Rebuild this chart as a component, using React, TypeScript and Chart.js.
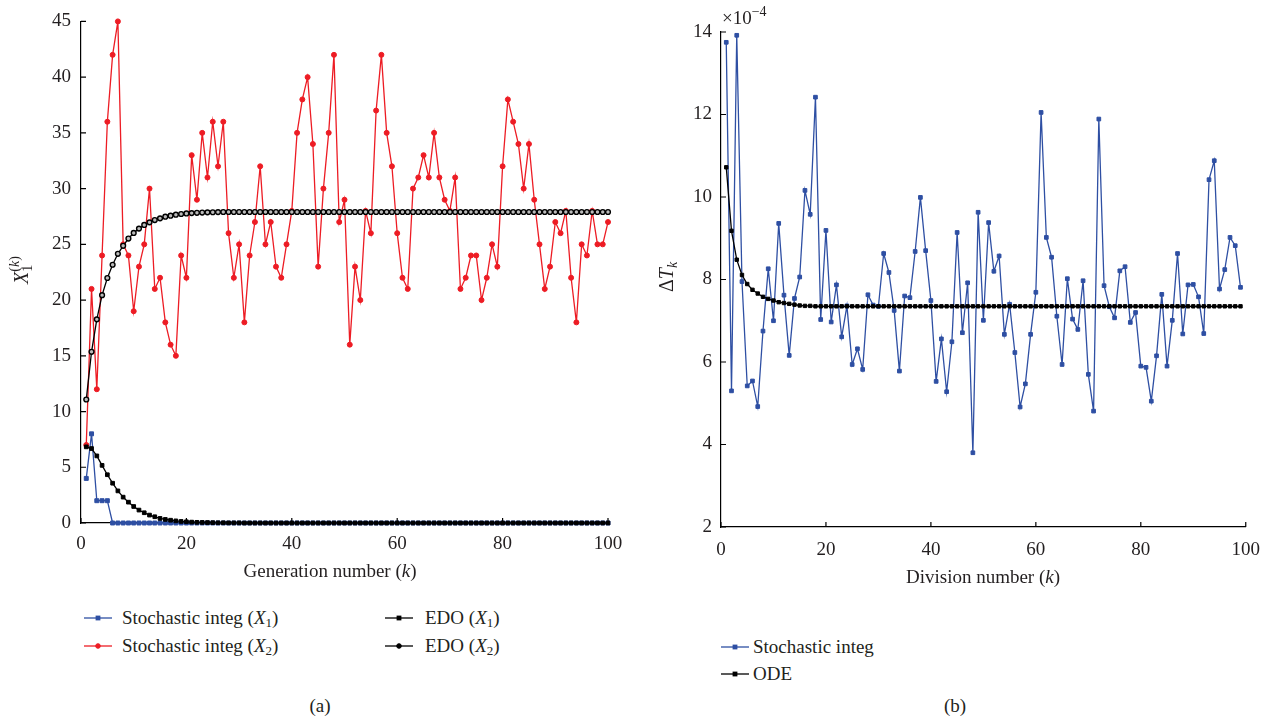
import React, { useEffect, useRef } from "react";
import { Chart, registerables } from "chart.js";

Chart.register(...registerables);

// ---------------- data ----------------
// Panel (a): generation number k = 1..100
const stochX1 = [
  4, 8, 2, 2, 2, 0, 0, 0, 0, 0,
  0, 0, 0, 0, 0, 0, 0, 0, 0, 0,
  0, 0, 0, 0, 0, 0, 0, 0, 0, 0,
  0, 0, 0, 0, 0, 0, 0, 0, 0, 0,
  0, 0, 0, 0, 0, 0, 0, 0, 0, 0,
  0, 0, 0, 0, 0, 0, 0, 0, 0, 0,
  0, 0, 0, 0, 0, 0, 0, 0, 0, 0,
  0, 0, 0, 0, 0, 0, 0, 0, 0, 0,
  0, 0, 0, 0, 0, 0, 0, 0, 0, 0,
  0, 0, 0, 0, 0, 0, 0, 0, 0, 0,
];
const stochX2 = [
  7, 21, 12, 24, 36, 42, 45, 25, 24, 19,
  23, 25, 30, 21, 22, 18, 16, 15, 24, 22,
  33, 29, 35, 31, 36, 32, 36, 26, 22, 25,
  18, 24, 27, 32, 25, 27, 23, 22, 25, 28,
  35, 38, 40, 34, 23, 30, 35, 42, 27, 29,
  16, 23, 20, 28, 26, 37, 42, 35, 32, 26,
  22, 21, 30, 31, 33, 31, 35, 31, 29, 28,
  31, 21, 22, 24, 24, 20, 22, 25, 23, 32,
  38, 36, 34, 30, 34, 29, 25, 21, 23, 27,
  26, 28, 22, 18, 25, 24, 28, 25, 25, 27,
];
const edoX1 = [
  6.83, 6.68, 6.02, 5.17, 4.33, 3.57, 2.88, 2.32, 1.87, 1.48,
  1.16, 0.92, 0.71, 0.56, 0.41, 0.32, 0.25, 0.19, 0.14, 0.11,
  0.08, 0.06, 0.05, 0.04, 0.03, 0.02, 0.02, 0.01, 0.01, 0.01,
  0, 0, 0, 0, 0, 0, 0, 0, 0, 0,
  0, 0, 0, 0, 0, 0, 0, 0, 0, 0,
  0, 0, 0, 0, 0, 0, 0, 0, 0, 0,
  0, 0, 0, 0, 0, 0, 0, 0, 0, 0,
  0, 0, 0, 0, 0, 0, 0, 0, 0, 0,
  0, 0, 0, 0, 0, 0, 0, 0, 0, 0,
  0, 0, 0, 0, 0, 0, 0, 0, 0, 0,
];
const edoX2 = [
  11.08, 15.36, 18.27, 20.44, 21.98, 23.17, 24.15, 24.87, 25.52, 26.02,
  26.41, 26.74, 26.97, 27.18, 27.33, 27.48, 27.57, 27.66, 27.72, 27.77,
  27.8, 27.83, 27.85, 27.87, 27.88, 27.89, 27.9, 27.9, 27.9, 27.9,
  27.9, 27.9, 27.9, 27.9, 27.9, 27.9, 27.9, 27.9, 27.9, 27.9,
  27.9, 27.9, 27.9, 27.9, 27.9, 27.9, 27.9, 27.9, 27.9, 27.9,
  27.9, 27.9, 27.9, 27.9, 27.9, 27.9, 27.9, 27.9, 27.9, 27.9,
  27.9, 27.9, 27.9, 27.9, 27.9, 27.9, 27.9, 27.9, 27.9, 27.9,
  27.9, 27.9, 27.9, 27.9, 27.9, 27.9, 27.9, 27.9, 27.9, 27.9,
  27.9, 27.9, 27.9, 27.9, 27.9, 27.9, 27.9, 27.9, 27.9, 27.9,
  27.9, 27.9, 27.9, 27.9, 27.9, 27.9, 27.9, 27.9, 27.9, 27.9,
];

// Panel (b): division number k = 1..99, values in units of 1e-4
const dtStoch = [
  13.75, 5.3, 13.92, 7.95, 5.42, 5.54, 4.92, 6.75, 8.26, 7.0,
  9.36, 7.62, 6.16, 7.54, 8.06, 10.16, 9.58, 12.42, 7.03, 9.19,
  6.97, 7.87, 6.61, 7.36, 5.94, 6.32, 5.82, 7.63, 7.38, 7.35,
  8.63, 8.17, 7.25, 5.78, 7.6, 7.56, 8.68, 9.99, 8.7, 7.49,
  5.53, 6.56, 5.28, 6.49, 9.14, 6.71, 7.92, 3.8, 9.63, 7.01,
  9.38, 8.2, 8.57, 6.67, 7.4, 6.23, 4.91, 5.47, 6.67, 7.69,
  12.05, 9.02, 8.54, 7.11, 5.94, 8.02, 7.04, 6.79, 7.97, 5.7,
  4.81, 11.89, 7.85, 7.34, 7.07, 8.21, 8.31, 6.96, 7.2, 5.9,
  5.87, 5.05, 6.15, 7.64, 5.9, 7.01, 8.63, 6.68, 7.87, 7.88,
  7.58, 6.69, 10.42, 10.88, 7.77, 8.24, 9.02, 8.82, 7.81,
];
const dtOde = [
  10.72, 9.18, 8.48, 8.11, 7.89, 7.75, 7.66, 7.58, 7.53, 7.49,
  7.45, 7.43, 7.41, 7.39, 7.37, 7.36, 7.36, 7.35, 7.35, 7.35,
  7.35, 7.35, 7.35, 7.35, 7.35, 7.35, 7.35, 7.35, 7.35, 7.35,
  7.35, 7.35, 7.35, 7.35, 7.35, 7.35, 7.35, 7.35, 7.35, 7.35,
  7.35, 7.35, 7.35, 7.35, 7.35, 7.35, 7.35, 7.35, 7.35, 7.35,
  7.35, 7.35, 7.35, 7.35, 7.35, 7.35, 7.35, 7.35, 7.35, 7.35,
  7.35, 7.35, 7.35, 7.35, 7.35, 7.35, 7.35, 7.35, 7.35, 7.35,
  7.35, 7.35, 7.35, 7.35, 7.35, 7.35, 7.35, 7.35, 7.35, 7.35,
  7.35, 7.35, 7.35, 7.35, 7.35, 7.35, 7.35, 7.35, 7.35, 7.35,
  7.35, 7.35, 7.35, 7.35, 7.35, 7.35, 7.35, 7.35, 7.35,
];

// tick labels
const xTicksA = [0, 20, 40, 60, 80, 100];
const yTicksA = [0, 5, 10, 15, 20, 25, 30, 35, 40, 45];
const xTicksB = [0, 20, 40, 60, 80, 100];
const yTicksB = [2, 4, 6, 8, 10, 12, 14];

// series labels
const labelsA = ["Stochastic integ (X1)", "Stochastic integ (X2)", "EDO (X1)", "EDO (X2)"];
const labelsB = ["Stochastic integ", "ODE"];

// ---------------- styles ----------------
const FONT = '"Liberation Serif", "Times New Roman", serif';
const INK = "#231f20";
const RED = "#ed1c24";
const BLUE = "#2e4fa3";
const W = 636;
const H = 600;

type Part = { t: string; size?: number; italic?: boolean; dy?: number; mark?: boolean; back?: boolean };

function drawRich(ctx: CanvasRenderingContext2D, parts: Part[], x: number, y: number, align: "center" | "left") {
  const fonts = parts.map((p) => `${p.italic ? "italic " : ""}${p.size ?? 19}px ${FONT}`);
  const widths = parts.map((p, i) => {
    ctx.font = fonts[i];
    return ctx.measureText(p.t).width;
  });
  const xs: number[] = [];
  let cur = 0;
  let mark = 0;
  let maxCur = 0;
  parts.forEach((p, i) => {
    if (p.mark) mark = cur;
    if (p.back) {
      maxCur = Math.max(maxCur, cur);
      cur = mark;
    }
    xs.push(cur);
    cur += widths[i];
    maxCur = Math.max(maxCur, cur);
  });
  const x0 = align === "center" ? x - maxCur / 2 : x;
  ctx.textAlign = "left";
  ctx.textBaseline = "alphabetic";
  ctx.fillStyle = INK;
  parts.forEach((p, i) => {
    ctx.font = fonts[i];
    ctx.fillText(p.t, x0 + xs[i], y + (p.dy ?? 0));
  });
}

function tickPlugin(id: string, decorate: (ctx: CanvasRenderingContext2D, chart: any) => void) {
  return {
    id,
    afterDraw(chart: any) {
      const { ctx, chartArea, scales } = chart;
      ctx.save();
      ctx.strokeStyle = "#000";
      ctx.lineWidth = 1.2;
      ctx.beginPath();
      scales.x.ticks.forEach((t: any) => {
        const px = scales.x.getPixelForValue(t.value);
        ctx.moveTo(px, chartArea.bottom);
        ctx.lineTo(px, chartArea.bottom - 5);
      });
      scales.y.ticks.forEach((t: any) => {
        const py = scales.y.getPixelForValue(t.value);
        ctx.moveTo(chartArea.left, py);
        ctx.lineTo(chartArea.left + 5, py);
      });
      ctx.stroke();
      decorate(ctx, chart);
      ctx.restore();
    },
  };
}

function axis(min: number, max: number, ticks: number[], pad: number, fit: (s: any) => void) {
  return {
    type: "linear" as const,
    min,
    max,
    grid: { display: false, drawTicks: false },
    border: { display: true, color: "#000", width: 1.2 },
    ticks: { color: INK, font: { family: FONT, size: 19 }, padding: pad, autoSkip: false, maxRotation: 0 },
    afterBuildTicks: (s: any) => {
      s.ticks = ticks.map((v) => ({ value: v }));
    },
    afterFit: fit,
  };
}

function series(label: string, values: number[], color: string, style: string, radius: number, fill: string, order: number, pbw = 1) {
  return {
    label,
    data: values.map((v, i) => ({ x: i + 1, y: v })),
    borderColor: color,
    borderWidth: 1.3,
    pointStyle: style,
    pointRadius: radius,
    pointBackgroundColor: fill,
    pointBorderColor: color,
    pointBorderWidth: pbw,
    tension: 0,
    clip: false,
    order,
  };
}

function configA() {
  return {
    type: "line" as const,
    data: {
      datasets: [
        series(labelsA[0], stochX1, BLUE, "rect", 2.8, BLUE, 3),
        series(labelsA[1], stochX2, RED, "circle", 2.5, RED, 2),
        series(labelsA[2], edoX1, "#000", "rect", 2.6, "#000", 1),
        series(labelsA[3], edoX2, "#000", "circle", 2.4, "#bbb", 0, 1.4),
      ],
    },
    options: {
      animation: false as const,
      responsive: false,
      layout: { padding: { top: 18, right: 28, left: 0, bottom: 0 } },
      plugins: { legend: { display: false }, tooltip: { enabled: false } },
      scales: {
        x: axis(0, 100, xTicksA, 10, (s: any) => { s.height = H - 523; }),
        y: axis(0, 45, yTicksA, 10, (s: any) => { s.width = 81; }),
      },
    },
    plugins: [
      tickPlugin("decorA", (ctx) => {
        ctx.save();
        ctx.translate(22, 270);
        ctx.rotate(-Math.PI / 2);
        drawRich(ctx, [
          { t: "X", italic: true, size: 20 },
          { t: "(", size: 14, dy: -9, mark: true },
          { t: "k", size: 14, dy: -9, italic: true },
          { t: ")", size: 14, dy: -9 },
          { t: "1", size: 14, dy: 4, back: true },
        ], 0, 6, "center");
        ctx.restore();
        drawRich(ctx, [
          { t: "Generation number (" },
          { t: "k", italic: true },
          { t: ")" },
        ], 330, 577, "center");
      }),
    ],
  };
}

function configB() {
  return {
    type: "line" as const,
    data: {
      datasets: [
        series(labelsB[0], dtStoch, BLUE, "rect", 2.6, BLUE, 1),
        series(labelsB[1], dtOde, "#000", "rect", 2.4, "#000", 0),
      ],
    },
    options: {
      animation: false as const,
      responsive: false,
      layout: { padding: { top: 32, right: 23, left: 0, bottom: 0 } },
      plugins: { legend: { display: false }, tooltip: { enabled: false } },
      scales: {
        x: axis(0, 100, xTicksB, 12, (s: any) => { s.height = H - 527; }),
        y: axis(2, 14, yTicksB, 9, (s: any) => { s.width = 85; }),
      },
    },
    plugins: [
      tickPlugin("decorB", (ctx) => {
        drawRich(ctx, [
          { t: "×10" },
          { t: "−4", size: 14, dy: -8 },
        ], 86, 24, "left");
        ctx.save();
        ctx.translate(31, 277);
        ctx.rotate(-Math.PI / 2);
        drawRich(ctx, [
          { t: "Δ", size: 20 },
          { t: "T", italic: true, size: 20 },
          { t: "k", size: 14, dy: 4, italic: true },
        ], 0, 6, "center");
        ctx.restore();
        drawRich(ctx, [
          { t: "Division number (" },
          { t: "k", italic: true },
          { t: ")" },
        ], 347, 583, "center");
      }),
    ],
  };
}

function Sample({ color, marker, fill }: { color: string; marker: string; fill: string }) {
  return (
    <svg width={28} height={10} style={{ display: "block" }}>
      <line x1={0} y1={5} x2={28} y2={5} stroke={color} strokeWidth={1.3} />
      {marker === "rect" ? (
        <rect x={12} y={3} width={4} height={4} fill={fill} stroke={color} strokeWidth={0.8} />
      ) : (
        <circle cx={14} cy={5} r={2.3} fill={fill} stroke={color} strokeWidth={1} />
      )}
    </svg>
  );
}

function LegendItem({ x, y, gap, color, marker, fill, children }: any) {
  return (
    <div style={{ position: "absolute", left: x, top: y - 12, height: 24, display: "flex", alignItems: "center", whiteSpace: "nowrap" }}>
      <Sample color={color} marker={marker} fill={fill} />
      <span style={{ marginLeft: gap, fontSize: 19, lineHeight: "24px" }}>{children}</span>
    </div>
  );
}

const subStyle: React.CSSProperties = { fontSize: 13, verticalAlign: "-3px", lineHeight: 0 };

export default function App() {
  const refA = useRef<HTMLCanvasElement>(null);
  const refB = useRef<HTMLCanvasElement>(null);

  useEffect(() => {
    const a = new Chart(refA.current as HTMLCanvasElement, configA() as any);
    const b = new Chart(refB.current as HTMLCanvasElement, configB() as any);
    return () => {
      a.destroy();
      b.destroy();
    };
  }, []);

  return (
    <div style={{ position: "absolute", left: 0, top: 0, width: 1272, height: 719, background: "#fff", fontFamily: FONT, color: INK, overflow: "hidden" }}>
      <canvas ref={refA} width={W} height={H} style={{ position: "absolute", left: 0, top: 0, width: W, height: H }} />
      <canvas ref={refB} width={W} height={H} style={{ position: "absolute", left: 636, top: 0, width: W, height: H }} />

      <LegendItem x={84} y={618} gap={10} color={BLUE} marker="rect" fill={BLUE}>
        Stochastic integ (<i>X</i><span style={subStyle}>1</span>)
      </LegendItem>
      <LegendItem x={84} y={646} gap={10} color={RED} marker="circle" fill={RED}>
        Stochastic integ (<i>X</i><span style={subStyle}>2</span>)
      </LegendItem>
      <LegendItem x={385} y={618} gap={12} color="#000" marker="rect" fill="#000">
        EDO (<i>X</i><span style={subStyle}>1</span>)
      </LegendItem>
      <LegendItem x={385} y={646} gap={12} color="#000" marker="circle" fill="#000">
        EDO (<i>X</i><span style={subStyle}>2</span>)
      </LegendItem>

      <LegendItem x={721} y={647} gap={4} color={BLUE} marker="rect" fill={BLUE}>
        {labelsB[0]}
      </LegendItem>
      <LegendItem x={721} y={674} gap={4} color="#000" marker="rect" fill="#000">
        {labelsB[1]}
      </LegendItem>

      <div style={{ position: "absolute", left: 270, width: 100, top: 694, textAlign: "center", fontSize: 19, lineHeight: "24px" }}>(a)</div>
      <div style={{ position: "absolute", left: 905, width: 100, top: 694, textAlign: "center", fontSize: 19, lineHeight: "24px" }}>(b)</div>
    </div>
  );
}
